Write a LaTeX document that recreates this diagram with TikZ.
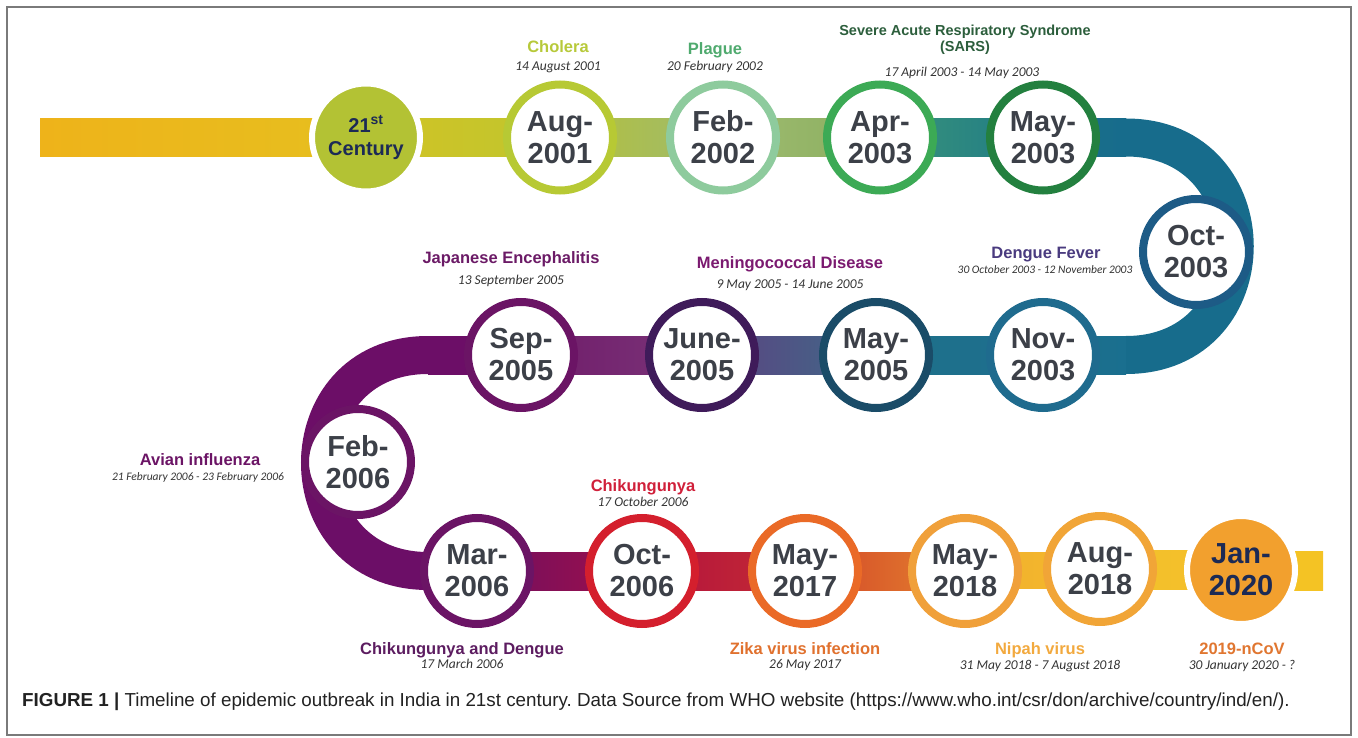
\documentclass[tikz,border=0pt]{standalone}
\usepackage{fontspec}
\setmainfont{Liberation Sans}
\newfontfamily\datefont{Carlito}
\usetikzlibrary{calc,backgrounds}

\definecolor{framegray}{HTML}{7A7A7A}
\definecolor{monthgray}{HTML}{3C4048}
\definecolor{navytext}{HTML}{1C2A55}
\definecolor{dategray}{HTML}{333333}
\definecolor{centfill}{HTML}{B3C234}
\definecolor{janfill}{HTML}{F2A02E}
\definecolor{ringAug}{HTML}{B7C934}
\definecolor{ringFeb}{HTML}{8ECB9D}
\definecolor{ringApr}{HTML}{3CAA55}
\definecolor{ringMayA}{HTML}{23803F}
\definecolor{ringOct}{HTML}{1D5B86}
\definecolor{ringNov}{HTML}{1F6B8E}
\definecolor{ringMayB}{HTML}{1A4C68}
\definecolor{ringJun}{HTML}{3F1B5A}
\definecolor{ringPurple}{HTML}{6B1465}
\definecolor{ringRed}{HTML}{D41F2D}
\definecolor{ringOrange}{HTML}{EA6A27}
\definecolor{ringAmber}{HTML}{F0A03A}
\definecolor{bandTeal}{HTML}{176C8C}
\definecolor{bandPurple}{HTML}{6C0E67}

\newcommand{\monthfont}{\bfseries\fontsize{29}{32}\selectfont}

\tikzstyle{ring} = [circle, draw, line width=8pt, fill=white, minimum size=106pt,
inner sep=0pt, text=monthgray, font=\monthfont, align=center]
\tikzstyle{dot} = [circle, draw=white, line width=6pt, minimum size=108pt,
inner sep=0pt, text=navytext, align=center, font=\bfseries\fontsize{20}{23}\selectfont]
\tikzstyle{title} = [anchor=base, inner sep=0pt, font=\bfseries\fontsize{16.5}{18}\selectfont]
\tikzstyle{when} = [anchor=base, inner sep=0pt, text=dategray, font=\datefont\itshape\fontsize{13.5}{15}\selectfont]
\tikzstyle{band} = [line width=38pt]

\begin{document}
\frenchspacing
\begin{tikzpicture}[x=1pt,y=-1pt]

\useasboundingbox (0,0) rectangle (1358,738);
\draw[framegray, line width=1.2pt] (7,7) rectangle (1351,735);

\coordinate (start) at (40,137.5);
\coordinate (rt1) at (1126,137.5);
\coordinate (rt2) at (1126,355);
\coordinate (lt1) at (428,355);
\coordinate (lt2) at (428,571);
\coordinate (finish) at (1323,571);

\node (c21) [dot, fill=centfill] at (366,137.5) {21\textsuperscript{st}\\Century};
\node (aug01) [ring, draw=ringAug] at (560,137.5) {Aug-\\2001};
\node (feb02) [ring, draw=ringFeb] at (723,137.5) {Feb-\\2002};
\node (apr03) [ring, draw=ringApr] at (880,137.5) {Apr-\\2003};
\node (may03) [ring, draw=ringMayA] at (1043,137.5) {May-\\2003};
\node (oct03) [ring, draw=ringOct] at (1196,252) {Oct-\\2003};
\node (nov03) [ring, draw=ringNov] at (1043,355) {Nov-\\2003};
\node (may05) [ring, draw=ringMayB] at (876,355) {May-\\2005};
\node (jun05) [ring, draw=ringJun] at (702,355) {June-\\2005};
\node (sep05) [ring, draw=ringPurple] at (521,355) {Sep-\\2005};
\node (feb06) [ring, draw=ringPurple] at (358,462) {Feb-\\2006};
\node (mar06) [ring, draw=ringPurple] at (477,571) {Mar-\\2006};
\node (oct06) [ring, draw=ringRed] at (642,571) {Oct-\\2006};
\node (may17) [ring, draw=ringOrange] at (805,571) {May-\\2017};
\node (may18) [ring, draw=ringAmber] at (965,571) {May-\\2018};
\node (aug18) [ring, draw=ringAmber!95!yellow] at (1100,569) {Aug-\\2018};
\node (jan20) [dot, fill=janfill, font=\monthfont] at (1241,570) {Jan-\\2020};

\node (cholera) [title, text={rgb,255:red,183;green,201;blue,58}] at (558,53) {Cholera};
\node (choleraDay) [when] at (558,70.5) {14 August 2001};
\node (plague) [title, text={rgb,255:red,79;green,170;blue,110}] at (715,55) {Plague};
\node (plagueDay) [when] at (715,70.5) {20 February 2002};
\node (sars) [title, anchor=center, align=center, text={rgb,255:red,44;green,94;blue,60},
font=\bfseries\fontsize{14.5}{16}\selectfont] at (965,40) {Severe Acute Respiratory Syndrome\\(SARS)};
\node (sarsDay) [when] at (962,76.5) {17 April 2003 - 14 May 2003};
\node (dengue) [title, text={rgb,255:red,74;green,59;blue,127}] at (1046,259) {Dengue Fever};
\node (dengueDay) [when, font=\datefont\itshape\fontsize{11.5}{13}\selectfont] at (1045,274) {30 October 2003 - 12 November 2003};
\node (mening) [title, text={rgb,255:red,123;green,26;blue,112}] at (790,269) {Meningococcal Disease};
\node (meningDay) [when] at (790,288.5) {9 May 2005 - 14 June 2005};
\node (japan) [title, text={rgb,255:red,107;green,26;blue,102}] at (511,264) {Japanese Encephalitis};
\node (japanDay) [when] at (511,284.5) {13 September 2005};
\node (avian) [title, text={rgb,255:red,107;green,20;blue,101}] at (200,465) {Avian influenza};
\node (avianDay) [when, font=\datefont\itshape\fontsize{11.5}{13}\selectfont] at (198,480) {21 February 2006 - 23 February 2006};
\node (chik) [title, text={rgb,255:red,208;green,32;blue,58}] at (643,491) {Chikungunya};
\node (chikDay) [when] at (643,506.5) {17 October 2006};
\node (chikDen) [title, text={rgb,255:red,92;green,28;blue,96}] at (462,654) {Chikungunya and Dengue};
\node (chikDenDay) [when] at (462,668.5) {17 March 2006};
\node (zika) [title, text={rgb,255:red,224;green,113;blue,46}] at (805,654) {Zika virus infection};
\node (zikaDay) [when] at (805,668.5) {26 May 2017};
\node (nipah) [title, text={rgb,255:red,242;green,169;blue,62}] at (1040,654) {Nipah virus};
\node (nipahDay) [when] at (1040,669.5) {31 May 2018 - 7 August 2018};
\node (ncov) [title, text={rgb,255:red,224;green,118;blue,48}] at (1242,654) {2019-nCoV};
\node (ncovDay) [when] at (1242,669.5) {30 January 2020 - ?};

\node (caption) [anchor=base west, inner sep=0pt, text={rgb,255:red,34;green,34;blue,34},
font=\fontsize{18.8}{21}\selectfont] at (22,706)
{\textbf{FIGURE 1 |} Timeline of epidemic outbreak in India in 21st century. Data Source from WHO website (https://www.who.int/csr/don/archive/country/ind/en/).};

\begin{pgfonlayer}{background}
\shade[left color={rgb,255:red,238;green,179;blue,26}, right color={rgb,255:red,230;green,191;blue,31}] ($(start)+(0,-19)$) rectangle ($(c21)+(0,19)$);
\shade[left color={rgb,255:red,210;green,196;blue,37}, right color={rgb,255:red,191;green,197;blue,46}] ($(c21)+(0,-19)$) rectangle ($(aug01)+(0,19)$);
\shade[left color={rgb,255:red,181;green,193;blue,60}, right color={rgb,255:red,157;green,186;blue,110}] ($(aug01)+(0,-19)$) rectangle ($(feb02)+(0,19)$);
\shade[left color={rgb,255:red,160;green,188;blue,112}, right color={rgb,255:red,138;green,174;blue,96}] ($(feb02)+(0,-19)$) rectangle ($(apr03)+(0,19)$);
\shade[left color={rgb,255:red,58;green,148;blue,121}, right color={rgb,255:red,30;green,122;blue,136}] ($(apr03)+(0,-19)$) rectangle ($(may03)+(0,19)$);
\shade[left color={rgb,255:red,27;green,111;blue,137}, right color=bandTeal] ($(may03)+(0,-19)$) rectangle ($(rt1)+(0,19)$);
\draw[band, bandTeal] (rt1) .. controls ($(rt1)+(145,0)$) and ($(rt2)+(145,0)$) .. (rt2);
\shade[left color={rgb,255:red,30;green,112;blue,138}, right color={rgb,255:red,26;green,111;blue,143}] ($(nov03)+(0,-19)$) rectangle ($(rt2)+(0,19)$);
\shade[left color={rgb,255:red,30;green,112;blue,138}, right color={rgb,255:red,30;green,111;blue,142}] ($(may05)+(0,-19)$) rectangle ($(nov03)+(0,19)$);
\shade[left color={rgb,255:red,94;green,65;blue,129}, right color={rgb,255:red,62;green,106;blue,136}] ($(jun05)+(0,-19)$) rectangle ($(may05)+(0,19)$);
\shade[left color={rgb,255:red,111;green,27;blue,105}, right color={rgb,255:red,123;green,52;blue,121}] ($(sep05)+(0,-19)$) rectangle ($(jun05)+(0,19)$);
\shade[left color=bandPurple, right color=bandPurple] ($(lt1)+(0,-19)$) rectangle ($(sep05)+(0,19)$);
\draw[band, bandPurple] (lt1) .. controls ($(lt1)+(-144,0)$) and ($(lt2)+(-144,0)$) .. (lt2);
\shade[left color=bandPurple, right color=bandPurple] ($(lt2)+(0,-19)$) rectangle ($(mar06)+(0,19)$);
\shade[left color={rgb,255:red,112;green,14;blue,96}, right color={rgb,255:red,160;green,16;blue,74}] ($(mar06)+(0,-19)$) rectangle ($(oct06)+(0,19)$);
\shade[left color={rgb,255:red,179;green,18;blue,62}, right color={rgb,255:red,196;green,44;blue,51}] ($(oct06)+(0,-19)$) rectangle ($(may17)+(0,19)$);
\shade[left color={rgb,255:red,211;green,70;blue,42}, right color={rgb,255:red,228;green,131;blue,45}] ($(may17)+(0,-19)$) rectangle ($(may18)+(0,19)$);
\shade[left color={rgb,255:red,242;green,176;blue,46}, right color={rgb,255:red,243;green,185;blue,44}] ($(may18)+(0,-19)$) rectangle ($(aug18)+(0,19)$);
\shade[left color={rgb,255:red,243;green,190;blue,44}, right color={rgb,255:red,244;green,194;blue,42}] ($(aug18)+(0,-19)$) rectangle ($(jan20)+(0,19)$);
\shade[left color={rgb,255:red,244;green,195;blue,36}, right color={rgb,255:red,244;green,195;blue,36}] ($(jan20)+(0,-19)$) rectangle ($(finish)+(0,19)$);
\end{pgfonlayer}

\end{tikzpicture}
\end{document}
